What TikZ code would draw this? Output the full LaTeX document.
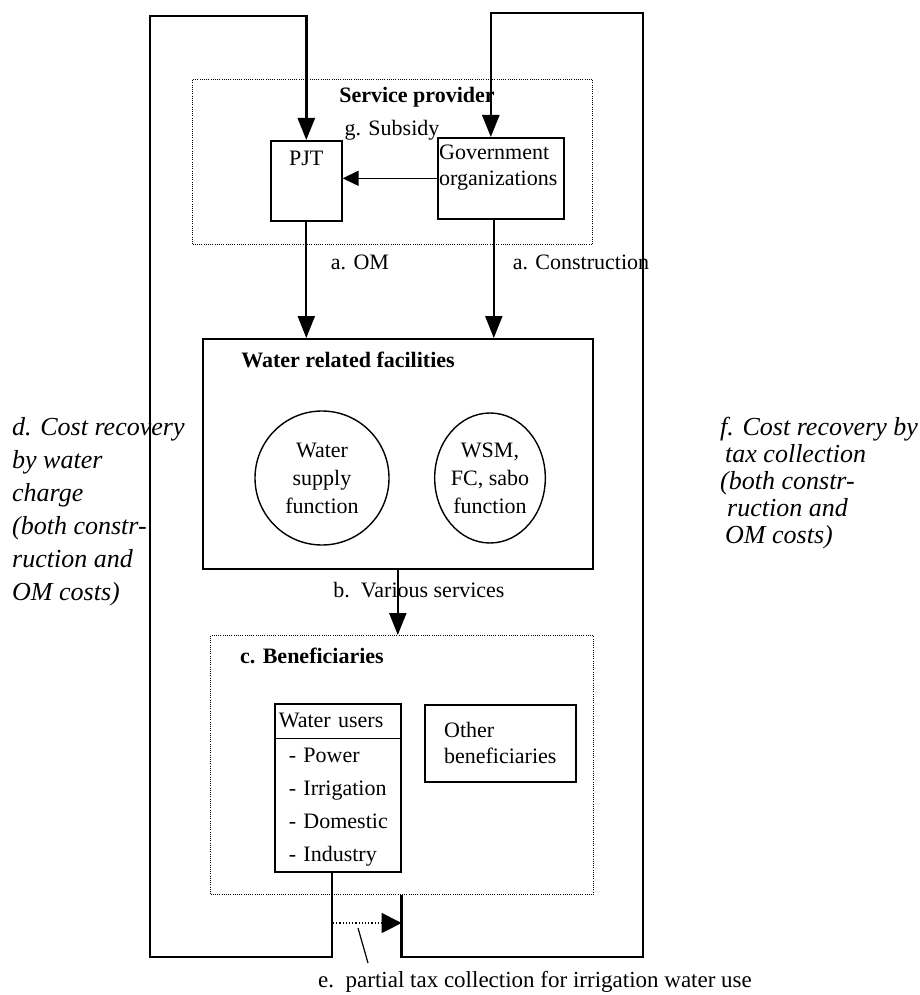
\documentclass[tikz,border=0pt]{standalone}
\usepackage{fontspec}
\setmainfont{Liberation Serif}
\usetikzlibrary{arrows.meta,shapes.multipart,shapes.geometric}

\tikzset{
	box/.style={draw,line width=1.6,inner sep=0pt},
	zone/.style={draw,line width=1,dash pattern=on 1pt off 1.2pt,inner sep=0pt},
	ring/.style={draw,line width=1.4,inner sep=0pt,align=center,font=\fontsize{22}{28}\selectfont},
	flow/.style={line width=2.2,-{Triangle[length=22pt,width=17pt]}},
	loopline/.style={line width=2.6},
	sidenote/.style={align=left,anchor=north west,inner sep=0pt},
}

\begin{document}
\begin{tikzpicture}[x=1pt,y=-1pt,font=\fontsize{22}{26}\selectfont]
	\useasboundingbox (0,0) rectangle (919,995);
	% service provider
	\node[zone,minimum width=400pt,minimum height=165pt,anchor=north west] (sp) at (192,79) {};
	\node (sptitle) at (417,97) {\textbf{Service provider}};
	\node[box,minimum width=71pt,minimum height=80pt,anchor=north west,
		label={[anchor=north,yshift=-8pt]north:PJT}] (pjt) at (270,140) {};
	\node[box,minimum width=126pt,minimum height=81pt,anchor=north west,
		label={[anchor=north west,align=left,inner sep=2pt,yshift=-6pt]north west:Government\\organizations}] (gov) at (437,137) {};
	\node (subsidy) at (392,130) {g. Subsidy};
	\draw[line width=1.5,-{Triangle[length=16pt,width=15pt]}] (gov.west) -- (pjt.east |- gov.west);
	% facilities
	\node[box,minimum width=390pt,minimum height=230pt,anchor=north west] (fac) at (202,338) {};
	\node (factitle) at (348,360) {\textbf{Water related facilities}};
	\node[ring,circle,minimum size=134pt] (wsf) at (322,478) {Water\\supply\\function};
	\node[ring,ellipse,minimum width=110pt,minimum height=130pt] (wsm) at (490,478) {WSM,\\FC, sabo\\function};
	\draw[flow] (pjt.south) -- (pjt.south |- fac.north);
	\draw[flow] ([xshift=-7pt]gov.south) -- ([xshift=-7pt]gov.south |- fac.north);
	\node (om) at (360,262) {a. OM};
	\node (constr) at (581,262) {a. Construction};
	% beneficiaries
	\node[zone,minimum width=383pt,minimum height=259pt,anchor=north west] (ben) at (210,635) {};
	\node (bentitle) at (312,656) {\textbf{c. Beneficiaries}};
	\node[box,rectangle split,rectangle split parts=2,text width=118pt,inner xsep=4pt,inner ysep=0pt,
		align=left,font=\fontsize{22}{33}\selectfont,anchor=north west] (wu) at (274,703)
		{\strut Water users\nodepart{second}\strut\hspace*{10pt}- Power\\\hspace*{10pt}- Irrigation\\\hspace*{10pt}- Domestic\\\hspace*{10pt}- Industry\strut};
	\node[box,minimum width=151pt,minimum height=77pt,align=left,anchor=north west] (ob) at (424,704) {Other\\beneficiaries};
	\draw[flow] (fac.south) -- (fac.south |- ben.north);
	\node (services) at (419,590) {b.\ \ Various services};
	% cost recovery loops
	\coordinate (wuout) at ([xshift=-6pt]wu.south);
	\coordinate (lbot) at (150,957);
	\coordinate (ltop) at (150,16);
	\coordinate (rstart) at (wu.south east |- ben.south);
	\coordinate (rbot) at (643,957);
	\coordinate (rtop) at (643,13);
	\draw[loopline,-{Triangle[length=22pt,width=17pt]}] (wuout) |- (lbot) -- (ltop) -| (pjt.north);
	\draw[loopline,-{Triangle[length=22pt,width=17pt]}] (rstart) |- (rbot) -- (rtop) -| ([xshift=-10pt]gov.north);
	\coordinate (etail) at (333,923);
	\coordinate (ehead) at (rstart |- etail);
	\draw[line width=1.2,dotted,-{Triangle[length=20pt,width=20pt]}] (etail) -- (ehead);
	\coordinate (epoint) at (358,928);
	\coordinate (elead) at (368,963);
	\draw[line width=1.2] (epoint) -- (elead);
	\node[font=\fontsize{23}{26}\selectfont] (elabel) at (535,982) {e.\ \ partial tax collection for irrigation water use};
	\node[sidenote,font=\fontsize{26}{33}\selectfont\itshape] (dnote) at (12,417)
		{d. Cost recovery\\by water\\charge\\(both constr-\\ruction and\\OM costs)};
	\node[sidenote,font=\fontsize{26}{27}\selectfont\itshape] (fnote) at (720,417)
		{f. Cost recovery by\\\hspace*{5pt}tax collection\\(both constr-\\\hspace*{7pt}ruction and\\\hspace*{5pt}OM costs)};
\end{tikzpicture}
\end{document}
